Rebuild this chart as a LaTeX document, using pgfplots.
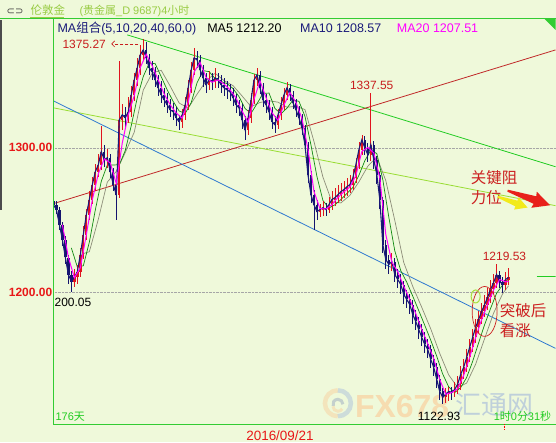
\documentclass[border=0pt]{standalone}
\usepackage{pgfplots}
\pgfplotsset{compat=1.18}
\usepackage{pgfplotstable}
\usetikzlibrary{arrows.meta}
\usepackage{fontspec}
\setmainfont{Liberation Sans}
\newfontfamily\cjk{Noto Sans CJK SC}
\newfontfamily\sym{DejaVu Sans}
\newcommand{\fs}[1]{\fontsize{#1}{#1}\selectfont}

\definecolor{bg}{HTML}{EFF9DA}
\definecolor{frame}{HTML}{33CC33}
\definecolor{hdr}{HTML}{99CC44}
\definecolor{up}{HTML}{E0141E}
\definecolor{down}{HTML}{14146E}
\definecolor{navy}{HTML}{1A1A7A}
\definecolor{ma20}{HTML}{FF00FF}
\definecolor{ma40}{HTML}{108A10}
\definecolor{ma60}{HTML}{8C8C78}
\definecolor{lblred}{HTML}{C81E1E}
\definecolor{tickred}{HTML}{E81818}
\definecolor{tgreen}{HTML}{22CC22}
\definecolor{tyellow}{HTML}{A8E040}
\definecolor{tred}{HTML}{CC2020}
\definecolor{tblue}{HTML}{2E78D0}
\definecolor{tline}{HTML}{22CC22}
\definecolor{tlime}{HTML}{99DD33}
\definecolor{tdred}{HTML}{C02828}
\definecolor{arrred}{HTML}{E8201A}
\definecolor{arryel}{HTML}{F2EA1A}
\definecolor{wmorange}{HTML}{F6DCB0}
\definecolor{wmblue}{HTML}{BFD0DA}

% 4-hour candles: x position, open, high, low, close
\pgfplotstableread{
x o h l c
53 1263.0 1265.5 1257.5 1260.7
56 1260.7 1263.0 1254.0 1257.3
59 1257.3 1259.0 1243.0 1246.9
62 1246.9 1249.0 1232.0 1236.6
65 1236.6 1239.0 1220.0 1224.2
68 1224.2 1226.0 1206.0 1212.4
71 1212.4 1215.0 1200.05 1207.6
74 1207.6 1216.0 1204.0 1210.4
77 1210.4 1219.0 1206.0 1214.5
80 1214.5 1231.0 1211.0 1226.2
83 1226.2 1246.0 1223.0 1240.0
86 1240.0 1258.0 1236.0 1253.8
89 1253.8 1270.0 1250.0 1264.2
92 1264.2 1280.0 1261.0 1274.5
95 1274.5 1289.0 1270.0 1283.5
98 1283.5 1296.0 1280.0 1288.3
101 1288.3 1315.0 1285.0 1297.3
104 1297.3 1302.0 1287.0 1291.7
107 1291.7 1299.0 1286.0 1293.1
110 1293.1 1296.0 1279.0 1283.5
113 1283.5 1286.0 1270.0 1274.5
116 1274.5 1277.0 1250.0 1267.6
119 1267.6 1360.0 1265.0 1319.3
122 1319.3 1330.0 1312.0 1322.8
125 1322.8 1328.0 1314.0 1320.7
128 1320.7 1335.0 1317.0 1324.9
131 1324.9 1343.0 1321.0 1336.6
134 1336.6 1352.0 1332.0 1346.9
137 1346.9 1362.0 1343.0 1355.2
140 1355.2 1371.0 1350.0 1364.2
143 1364.2 1375.27 1360.0 1367.6
146 1367.6 1373.0 1358.0 1362.1
149 1362.1 1365.0 1350.0 1355.2
152 1355.2 1360.0 1347.0 1352.4
155 1352.4 1356.0 1342.0 1346.9
158 1346.9 1350.0 1336.0 1341.4
161 1341.4 1346.0 1331.0 1336.6
164 1336.6 1341.0 1328.0 1333.1
167 1333.1 1338.0 1324.0 1329.7
170 1329.7 1334.0 1321.0 1326.2
173 1326.2 1331.0 1319.0 1324.9
176 1324.9 1328.0 1315.0 1320.7
179 1320.7 1323.0 1312.0 1318.0
182 1318.0 1327.0 1314.0 1322.8
185 1322.8 1335.0 1319.0 1329.7
188 1329.7 1347.0 1326.0 1341.4
191 1341.4 1359.0 1338.0 1353.8
194 1353.8 1369.0 1350.0 1362.1
197 1362.1 1367.0 1355.0 1360.7
200 1360.7 1364.0 1349.0 1353.8
203 1353.8 1357.0 1342.0 1348.3
206 1348.3 1352.0 1338.0 1343.5
209 1343.5 1353.0 1340.0 1346.9
212 1346.9 1352.0 1340.0 1345.5
215 1345.5 1355.0 1341.0 1348.3
218 1348.3 1352.0 1341.0 1346.9
221 1346.9 1350.0 1338.0 1343.5
224 1343.5 1348.0 1336.0 1341.4
227 1341.4 1346.0 1334.0 1340.0
230 1340.0 1344.0 1332.0 1338.6
233 1338.6 1341.0 1329.0 1334.5
236 1334.5 1337.0 1324.0 1329.7
239 1329.7 1333.0 1322.0 1327.6
242 1327.6 1330.0 1313.0 1319.3
245 1319.3 1322.0 1305.5 1312.4
248 1312.4 1326.0 1309.0 1320.7
251 1320.7 1338.0 1317.0 1333.1
254 1333.1 1351.0 1330.0 1346.9
257 1346.9 1355.0 1343.0 1350.4
260 1350.4 1353.0 1337.0 1341.4
263 1341.4 1345.0 1328.0 1333.1
266 1333.1 1337.0 1324.0 1329.7
269 1329.7 1333.0 1319.0 1324.9
272 1324.9 1328.0 1313.0 1318.0
275 1318.0 1322.0 1310.0 1315.9
278 1315.9 1327.0 1313.0 1322.8
281 1322.8 1335.0 1319.0 1329.7
284 1329.7 1341.0 1326.0 1336.6
287 1336.6 1345.5 1333.0 1341.4
290 1341.4 1344.0 1332.0 1336.6
293 1336.6 1339.0 1327.0 1331.1
296 1331.1 1334.0 1321.0 1326.2
299 1326.2 1329.0 1316.0 1320.7
302 1320.7 1323.0 1309.0 1313.8
305 1313.8 1316.0 1297.0 1302.1
308 1302.1 1304.0 1276.0 1281.4
311 1281.4 1284.0 1262.0 1267.6
314 1267.6 1271.0 1243.4 1260.7
317 1260.7 1264.0 1250.0 1255.9
320 1255.9 1261.0 1252.0 1257.3
323 1257.3 1263.0 1253.0 1258.6
326 1258.6 1262.0 1253.0 1257.3
329 1257.3 1266.0 1255.0 1260.7
332 1260.7 1270.0 1257.0 1264.2
335 1264.2 1272.0 1260.0 1265.5
338 1265.5 1274.0 1262.0 1267.6
341 1267.6 1276.0 1263.0 1269.7
344 1269.7 1277.0 1265.0 1271.1
347 1271.1 1279.0 1267.0 1273.1
350 1273.1 1281.0 1269.0 1274.5
353 1274.5 1285.0 1271.0 1279.3
356 1279.3 1293.0 1276.0 1288.3
359 1288.3 1304.0 1285.0 1298.6
362 1298.6 1309.0 1295.0 1305.5
365 1305.5 1308.0 1295.0 1300.0
368 1300.0 1303.0 1290.0 1295.2
371 1295.2 1337.55 1291.0 1302.1
374 1302.1 1305.0 1285.0 1291.7
377 1291.7 1294.0 1275.0 1281.4
380 1281.4 1283.0 1258.0 1264.2
383 1264.2 1266.0 1227.0 1233.1
386 1233.1 1236.0 1216.0 1222.8
389 1222.8 1226.0 1213.0 1219.4
392 1219.4 1227.0 1215.0 1221.4
395 1221.4 1224.0 1207.0 1212.4
398 1212.4 1216.0 1203.0 1209.0
401 1209.0 1213.0 1199.0 1205.5
404 1205.5 1208.0 1192.0 1198.6
407 1198.6 1202.0 1189.0 1195.2
410 1195.2 1199.0 1185.0 1191.7
413 1191.7 1195.0 1178.0 1184.8
416 1184.8 1188.0 1174.0 1180.0
419 1180.0 1183.0 1168.0 1174.5
422 1174.5 1178.0 1163.0 1169.0
425 1169.0 1173.0 1158.0 1164.2
428 1164.2 1168.0 1155.0 1160.7
431 1160.7 1164.0 1148.0 1153.8
434 1153.8 1157.0 1142.0 1148.3
437 1148.3 1151.0 1134.0 1140.0
440 1140.0 1143.0 1126.0 1131.7
443 1131.7 1134.0 1122.93 1127.6
446 1127.6 1134.0 1124.0 1129.7
449 1129.7 1135.0 1125.0 1131.7
452 1131.7 1135.0 1126.0 1131.0
455 1131.0 1138.0 1128.0 1133.1
458 1133.1 1142.0 1130.0 1136.6
461 1136.6 1149.0 1133.0 1143.5
464 1143.5 1154.0 1140.0 1148.3
467 1148.3 1161.0 1145.0 1155.2
470 1155.2 1168.0 1152.0 1162.1
473 1162.1 1175.0 1159.0 1169.0
476 1169.0 1182.0 1165.0 1175.9
479 1175.9 1187.0 1172.0 1181.4
482 1181.4 1193.0 1178.0 1186.9
485 1186.9 1198.0 1183.0 1191.7
488 1191.7 1203.0 1188.0 1196.6
491 1196.6 1209.0 1193.0 1202.1
494 1202.1 1213.0 1199.0 1206.9
497 1206.9 1219.53 1203.0 1212.4
500 1212.4 1215.0 1203.0 1207.6
503 1207.6 1211.0 1200.0 1205.5
506 1205.5 1214.0 1202.0 1209.0
509 1209.0 1217.0 1205.0 1210.4
}\candles

% MA20 (magenta)
\pgfplotstableread{
x y
62 1246.9
68 1224.4
74 1210.2
80 1217.1
86 1240.0
92 1264.2
98 1282.1
104 1292.4
110 1289.5
116 1275.2
122 1303.3
128 1322.8
134 1336.1
140 1355.4
146 1364.6
152 1356.6
158 1346.9
164 1337.1
170 1329.7
176 1324.0
182 1320.5
188 1331.3
194 1352.4
200 1358.9
206 1348.5
212 1345.3
218 1346.9
224 1344.0
230 1340.0
236 1334.3
242 1325.5
248 1317.5
254 1333.6
260 1346.2
266 1334.7
272 1324.2
278 1318.9
284 1329.7
290 1338.2
296 1331.3
302 1320.2
308 1299.1
314 1269.9
320 1258.0
326 1257.7
332 1260.7
338 1265.7
344 1269.5
350 1272.9
356 1280.7
362 1297.5
368 1300.2
374 1296.4
380 1279.1
386 1240.0
392 1221.2
398 1214.3
404 1204.4
410 1195.2
416 1185.5
422 1174.5
428 1164.6
434 1154.3
440 1140.0
446 1129.7
452 1130.8
458 1133.6
464 1142.8
470 1155.2
476 1169.0
482 1181.4
488 1191.7
494 1201.9
500 1209.0
506 1207.4
509 1207.5
}\maTwenty

% MA40 (green)
\pgfplotstableread{
x y
71 1230.8
77 1217.6
83 1218.5
89 1234.8
95 1257.1
101 1276.9
107 1288.1
113 1288.1
119 1288.3
125 1298.1
131 1315.3
137 1334.5
143 1349.2
149 1358.5
155 1358.1
161 1349.1
167 1340.0
173 1332.0
179 1325.4
185 1323.7
191 1331.1
197 1345.1
203 1353.3
209 1352.6
215 1347.8
221 1345.8
227 1344.3
233 1340.9
239 1335.3
245 1327.1
251 1323.8
257 1330.5
263 1337.6
269 1337.8
275 1327.1
281 1323.5
287 1327.4
293 1333.0
299 1332.1
305 1321.8
311 1302.0
317 1280.2
323 1263.6
329 1258.4
335 1260.6
341 1264.2
347 1268.5
353 1272.6
359 1280.9
365 1291.1
371 1298.3
377 1296.0
383 1278.0
389 1252.1
395 1228.8
401 1215.1
407 1207.1
413 1197.5
419 1187.5
425 1177.4
431 1167.1
437 1156.0
443 1143.7
449 1134.8
455 1130.8
461 1134.3
467 1141.3
473 1152.4
479 1165.3
485 1177.8
491 1189.1
497 1199.5
503 1205.2
509 1208.6
}\maForty

% MA60 (grey)
\pgfplotstableread{
x y
80 1226.2
89 1228.2
98 1250.6
107 1276.3
116 1283.7
125 1296.7
134 1310.8
143 1339.8
152 1351.7
161 1353.5
170 1342.6
179 1330.9
188 1327.4
197 1337.1
206 1346.2
215 1351.5
224 1346.4
233 1342.9
242 1335.8
251 1328.4
260 1331.3
269 1332.5
278 1331.5
287 1328.0
296 1328.7
305 1326.4
314 1304.4
323 1279.8
332 1262.6
341 1261.9
350 1267.1
359 1276.4
368 1287.3
377 1293.6
386 1277.3
395 1249.8
404 1220.7
413 1204.2
422 1189.8
431 1174.9
440 1158.0
449 1143.1
458 1134.4
467 1137.4
476 1150.5
485 1168.2
494 1185.8
503 1199.1
509 1204.7
}\maSixty

\begin{document}
\begin{tikzpicture}
% background
\fill[bg] (0pt,0pt) rectangle (556pt,443pt);

% watermark
\begin{scope}[opacity=0.7]
  \draw[line width=4.5pt, wmorange] (338pt,52pt) arc[start angle=90, end angle=270, radius=13pt];
  \draw[line width=4.5pt, wmblue] (338pt,26pt) arc[start angle=-90, end angle=90, radius=13pt];
  \draw[line width=3pt, wmblue!80!gray] (343pt,38pt) arc[start angle=0, end angle=200, radius=5pt];
  \draw[line width=3pt, wmorange] (333pt,36pt) arc[start angle=180, end angle=330, radius=5pt];
\end{scope}
\node[anchor=base west, inner sep=0pt, font=\bfseries\fs{32}, text=wmorange] at (355pt,25pt) {FX678};
\node[anchor=base west, inner sep=0pt, font=\cjk\fs{26}, text=wmblue] at (456pt,28pt) {汇通网};

\begin{axis}[
  at={(53pt,18pt)}, anchor=south west,
  scale only axis, width=503pt, height=406pt,
  xmin=53, xmax=556, ymin=1109, ymax=1389,
  axis line style={draw=none},
  tick style={draw=none}, major tick length=0pt,
  ytick={1200,1300}, yticklabels={1200.00,1300.00},
  xtick={280}, xticklabels={2016/09/21},
  ymajorgrids, grid style={densely dotted, gray!70, line width=0.5pt},
  /pgf/number format/assume math mode=true,
  yticklabel style={font=\bfseries\fs{12}, text=tickred, inner sep=1pt},
  xticklabel style={font=\fs{13.5}, text=tickred, inner sep=0pt, yshift=-6pt},
  candle/.style={mark=none, draw=none, forget plot},
]
% trend lines
\addplot[tline, line width=0.8pt, forget plot] coordinates {(127,1378.0) (556,1286.9)};
\addplot[tlime, line width=0.8pt, forget plot] coordinates {(53,1327.6) (556,1260.0)};
\addplot[tdred, line width=0.8pt, forget plot] coordinates {(53,1261.4) (556,1367.6)};
\addplot[tblue, line width=0.8pt, forget plot] coordinates {(53,1332.4) (556,1161.4)};
\addplot[tline, line width=1pt, forget plot] coordinates {(537,1211.1) (556,1211.1)};

% slow averages
\addplot[ma60, line width=0.7pt, forget plot] table[x=x, y=y] {\maSixty};
\addplot[ma40, line width=0.7pt, forget plot] table[x=x, y=y] {\maForty};

% candle wicks
\addplot[candle,
  restrict expr to domain={\thisrow{c}-\thisrow{o}}{0:1000},
  error bars/.cd, y dir=both, y explicit, error mark=none,
  error bar style={draw=up, line width=0.7pt}]
  table[x=x, y expr={(\thisrow{h}+\thisrow{l})/2}, y error expr={(\thisrow{h}-\thisrow{l})/2}] {\candles};
\addplot[candle,
  restrict expr to domain={\thisrow{c}-\thisrow{o}}{-1000:-0.001},
  error bars/.cd, y dir=both, y explicit, error mark=none,
  error bar style={draw=down, line width=0.7pt}]
  table[x=x, y expr={(\thisrow{h}+\thisrow{l})/2}, y error expr={(\thisrow{h}-\thisrow{l})/2}] {\candles};
% candle bodies
\addplot[candle,
  restrict expr to domain={\thisrow{c}-\thisrow{o}}{0:1000},
  error bars/.cd, y dir=both, y explicit, error mark=none,
  error bar style={draw=up, line width=2.3pt}]
  table[x=x, y expr={(\thisrow{o}+\thisrow{c})/2}, y error expr={max(abs(\thisrow{c}-\thisrow{o})/2,0.4)}] {\candles};
\addplot[candle,
  restrict expr to domain={\thisrow{c}-\thisrow{o}}{-1000:-0.001},
  error bars/.cd, y dir=both, y explicit, error mark=none,
  error bar style={draw=down, line width=2.3pt}]
  table[x=x, y expr={(\thisrow{o}+\thisrow{c})/2}, y error expr={max(abs(\thisrow{c}-\thisrow{o})/2,0.4)}] {\candles};

% closing prices and MA20
\addplot[navy, line width=1.1pt, forget plot] table[x=x, y=c] {\candles};
\addplot[ma20, line width=1pt, forget plot] table[x=x, y=y] {\maTwenty};
\end{axis}

% frame
\fill[black!70] (0pt,233pt) rectangle (2pt,423pt);
\draw[frame, line width=1pt] (0pt,424pt) -- (556pt,424pt);
\draw[frame, line width=1pt] (53pt,424pt) -- (53pt,18pt) -- (556pt,18pt);
\fill[frame] (545pt,424pt) -- (556pt,424pt) -- (556pt,413pt) -- cycle;
\draw[red, densely dotted, line width=0.6pt] (505pt,18pt) -- (505pt,12pt);

% header
\node[anchor=base west, inner sep=0pt, font=\sym\fs{10}, text=black!75] at (6pt,428.5pt) {⊂⊃};
\node[anchor=base west, inner sep=0pt, font=\cjk\fs{11.5}, text=hdr] at (30pt,428.5pt) {伦敦金};
\draw[hdr, line width=0.6pt] (30pt,426pt) -- (64pt,426pt);
\node[anchor=base west, inner sep=0pt, font=\fs{11}, text=hdr] at (79pt,428.5pt) {({\cjk 贵金属}\_D 9687)4{\cjk 小时}};

% moving average legend
\node[anchor=base west, inner sep=0pt, font=\fs{12.5}, text=navy] at (57pt,410.5pt) {MA{\cjk 组合}(5,10,20,40,60,0)};
\node[anchor=base west, inner sep=0pt, font=\fs{12.5}, text=black] at (207pt,410.5pt) {MA5 1212.20};
\node[anchor=base west, inner sep=0pt, font=\fs{12.5}, text=navy] at (300pt,410.5pt) {MA10 1208.57};
\node[anchor=base west, inner sep=0pt, font=\fs{12.5}, text=ma20] at (397pt,410.5pt) {MA20 1207.51};

% price labels
\node[anchor=base west, inner sep=0pt, font=\fs{12}, text=lblred] at (62pt,394.7pt) {1375.27};
\draw[lblred, densely dashed, line width=0.6pt, -{Straight Barb[length=3pt]}] (138pt,399pt) -- (111pt,399pt);
\node[anchor=base west, inner sep=0pt, font=\fs{12}, text=lblred] at (350pt,353.7pt) {1337.55};
\node[anchor=base west, inner sep=0pt, font=\fs{12}, text=black] at (54pt,135.7pt) {200.05};
\node[anchor=base west, inner sep=0pt, font=\fs{12}, text=black] at (418pt,21.7pt) {1122.93};
\node[anchor=base west, inner sep=0pt, font=\fs{12}, text=lblred] at (483pt,181.7pt) {1219.53};
\node[anchor=base west, inner sep=0pt, font=\fs{11}, text=tgreen] at (55pt,22pt) {176{\cjk 天}};
\node[anchor=base west, inner sep=0pt, font=\fs{11}, text=tgreen] at (494pt,22pt) {1{\cjk 时}0{\cjk 分}31{\cjk 秒}};

% annotations
\node[anchor=base west, inner sep=0pt, font=\cjk\fs{15.5}, text=tred] at (471pt,259pt) {关键阻};
\node[anchor=base west, inner sep=0pt, font=\cjk\fs{15.5}, text=tred] at (471pt,239pt) {力位};
\fill[arryel, shift={(498pt,246pt)}, rotate=-20] (0pt,-1pt) -- (20pt,-3pt) -- (20pt,-6.5pt) -- (32pt,0pt) -- (20pt,6.5pt) -- (20pt,3pt) -- (0pt,1pt) -- cycle;
\fill[arrred, shift={(508pt,252pt)}, rotate=-19] (0pt,-1pt) -- (29pt,-4pt) -- (28pt,-8.5pt) -- (45pt,0pt) -- (28pt,8.5pt) -- (29pt,4pt) -- (0pt,1pt) -- cycle;
\draw[tred, line width=0.7pt] (485pt,131pt) ellipse [x radius=12.5pt, y radius=25pt];
\draw[tyellow, line width=1pt] (476pt,146pt) ellipse [x radius=4.5pt, y radius=6.5pt];
\node[anchor=base west, inner sep=0pt, font=\cjk\fs{15.5}, text=tred] at (500pt,126pt) {突破后};
\node[anchor=base west, inner sep=0pt, font=\cjk\fs{15.5}, text=tred] at (500pt,106pt) {看涨};
\end{tikzpicture}
\end{document}
